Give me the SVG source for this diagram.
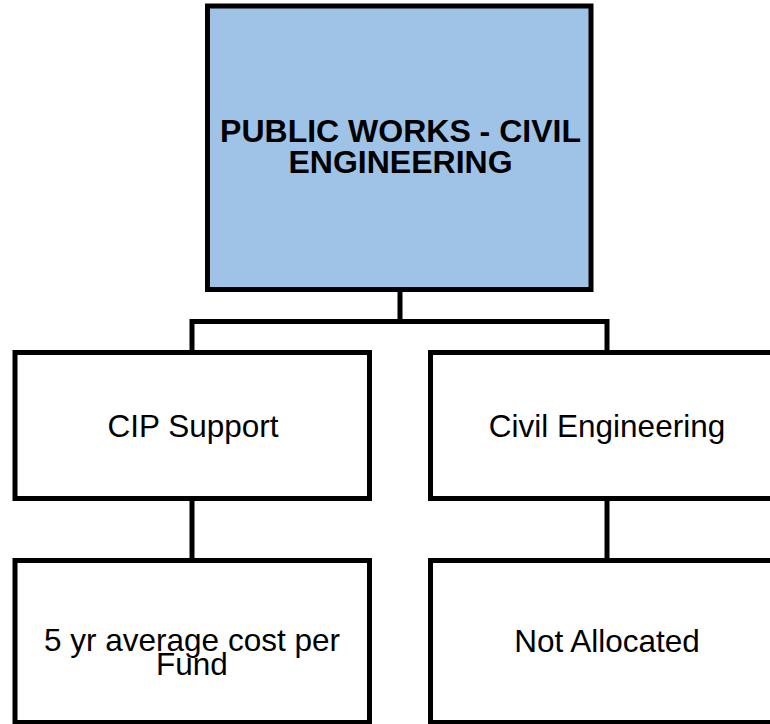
<svg xmlns="http://www.w3.org/2000/svg" width="770" height="724" viewBox="0 0 770 724">
<style>
.box{fill:#ffffff;stroke:#000000;stroke-width:5}
.top{fill:#9FC3E7;stroke:#000000;stroke-width:5}
.conn{fill:none;stroke:#000000;stroke-width:5}
.t{font-family:"Liberation Sans",Arial,sans-serif;font-size:31.5px;fill:#000000;text-anchor:middle}
.tb{font-family:"Liberation Sans",Arial,sans-serif;font-size:32px;font-weight:bold;fill:#000000;text-anchor:middle}
</style>
<rect width="770" height="724" fill="#ffffff"/>
<g id="connectors">
<path class="conn" d="M400,289.5 V321.5 M192,352.5 V321.5 H607 V352.5"/>
<path class="conn" d="M192,498.5 V560.5"/>
<path class="conn" d="M607,498.5 V560.5"/>
</g>
<g id="node-root">
<rect class="top" x="207.5" y="6" width="383.5" height="283.5"/>
<text class="tb" x="400.5" y="142">PUBLIC WORKS - CIVIL</text>
<text class="tb" x="400.5" y="173">ENGINEERING</text>
</g>
<g id="node-cip">
<rect class="box" x="15" y="352.5" width="354.5" height="146"/>
<text class="t" x="193" y="437">CIP Support</text>
</g>
<g id="node-civil">
<rect class="box" x="430.5" y="352.5" width="354" height="146"/>
<text class="t" x="607" y="437">Civil Engineering</text>
</g>
<g id="node-avg">
<rect class="box" x="15" y="560.5" width="354.5" height="162"/>
<text class="t" x="192" y="651">5 yr average cost per</text>
<text class="t" x="192" y="675">Fund</text>
</g>
<g id="node-na">
<rect class="box" x="430.5" y="560.5" width="354" height="162"/>
<text class="t" x="607" y="652">Not Allocated</text>
</g>
</svg>
